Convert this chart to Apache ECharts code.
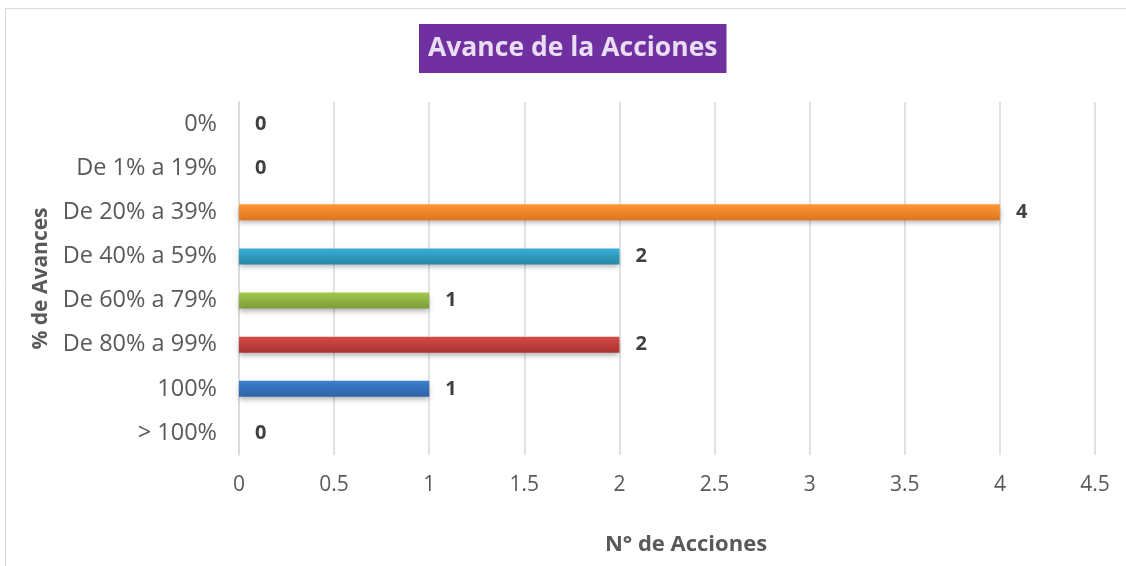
<!DOCTYPE html>
<html><head><meta charset="utf-8">
<script src="https://cdn.jsdelivr.net/npm/echarts@6/dist/echarts.min.js"></script>
<style>html,body{margin:0;padding:0;background:#fff}#c{width:1126px;height:566px}</style>
</head><body><div id="c"></div>
<script>
const categories = ['0%', 'De 1% a 19%', 'De 20% a 39%', 'De 40% a 59%', 'De 60% a 79%', 'De 80% a 99%', '100%', '> 100%'];
const values = [0, 0, 4, 2, 1, 2, 1, 0];
const topColors = ['#3a7fcf', '#3a7fcf', '#ff9735', '#36afd5', '#a2c64e', '#d44b48', '#3d7fcd', '#3a7fcf'];
const bottomColors = ['#2c61a6', '#2c61a6', '#dc7520', '#2887a8', '#7c9d38', '#a93330', '#2d62a7', '#2c61a6'];
const xTicks = { min: 0, max: 4.5, interval: 0.5 };

const FONT = '"Open Sans", "Liberation Sans", sans-serif';
const chart = echarts.init(document.getElementById('c'));
chart.setOption({
  backgroundColor: '#fff',
  animation: false,
  graphic: [{
    type: 'rect', shape: { x: 5.5, y: 8.5, width: 1140, height: 600 },
    style: { fill: 'none', stroke: '#d9d9d9', lineWidth: 1 }, silent: true, z: -1
  }],
  title: {
    text: 'Avance de la Acciones',
    left: 419, top: 24,
    backgroundColor: '#7030a0',
    padding: [11, 9, 11, 9],
    textStyle: { color: '#e8ddf2', fontSize: 26.5, fontWeight: 'bold', fontFamily: FONT }
  },
  grid: { left: 239, right: 31, top: 102, bottom: 111, containLabel: false },
  xAxis: {
    type: 'value', min: xTicks.min, max: xTicks.max, interval: xTicks.interval,
    axisLine: { show: false }, axisTick: { show: false },
    axisLabel: { color: '#595959', fontSize: 21, fontFamily: FONT, margin: 20 },
    splitLine: { lineStyle: { color: '#d9d9d9', width: 1.5 } },
    name: 'N° de Acciones', nameLocation: 'middle', nameGap: 79,
    nameTextStyle: { color: '#595959', fontSize: 22, fontWeight: 'bold', fontFamily: FONT, padding: [0, 0, 0, 38] }
  },
  yAxis: {
    type: 'category', data: categories, inverse: true,
    axisLine: { show: true, lineStyle: { color: '#d9d9d9', width: 1.5 } },
    axisTick: { show: false },
    axisLabel: { color: '#595959', fontSize: 23.5, fontFamily: FONT, margin: 22 },
    name: '% de Avances', nameLocation: 'middle', nameGap: 183, nameRotate: 90,
    nameTextStyle: { color: '#595959', fontSize: 21, fontWeight: 'bold', fontFamily: FONT }
  },
  series: [{
    type: 'bar',
    barWidth: 16,
    data: values.map((v, i) => ({
      value: v,
      itemStyle: {
        color: new echarts.graphic.LinearGradient(0, 0, 0, 1, [
          { offset: 0, color: topColors[i] }, { offset: 1, color: bottomColors[i] }
        ]),
        shadowColor: 'rgba(0,0,0,0.3)', shadowBlur: 5, shadowOffsetY: 3
      }
    })),
    label: {
      show: true, position: 'right', distance: 16,
      color: '#404040', fontSize: 20, fontWeight: 'bold', fontFamily: FONT
    }
  }]
});
</script></body></html>
